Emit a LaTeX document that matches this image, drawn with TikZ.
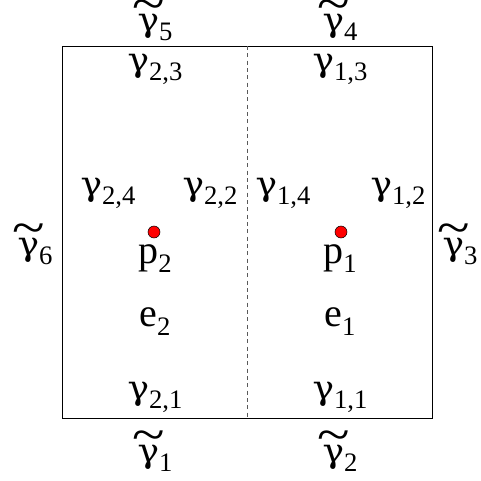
\documentclass[tikz,border=0pt]{standalone}
\usepackage{fontspec}
\usepackage{graphicx}
\setmainfont{Liberation Serif}
\newfontfamily\gfont{DejaVu Serif}
\newcommand\sbx[1]{\raisebox{-7pt}{\fontsize{20}{22}\selectfont #1}}
\newcommand\gm{{\gfont\fontsize{25}{28}\selectfont\scalebox{1.08}[1]{γ}}}
\newcommand\tgm{\leavevmode\hbox{\ooalign{\gm\cr\hidewidth\raisebox{8pt}[21pt][0pt]{\scalebox{1.8}[1.5]{\fontsize{25}{28}\selectfont\char"007E}}\hidewidth\cr}}}
\begin{document}
\begin{tikzpicture}[x=0.75pt,y=-0.75pt,lbl/.style={font=\fontsize{30}{34}\selectfont,inner sep=0pt,anchor=base},dot/.style={circle,fill=red,draw=black,line width=0.4pt,minimum size=9pt,inner sep=0pt}]
\useasboundingbox (0,0) rectangle (481,480);
\coordinate (tl) at (62,46);
\coordinate (br) at (432,418);
\coordinate (mt) at (247,46);
\coordinate (mb) at (247,418);
\draw[line width=0.7pt] (tl) rectangle (br);
\draw[line width=0.6pt,gray!70!black,dash pattern=on 3pt off 2.5pt] (mt) -- (mb);
\node[lbl] (t5) at (155,31) {\tgm\sbx{5}};
\node[lbl] (t4) at (340,31) {\tgm\sbx{4}};
\node[lbl] (g23) at (155,71) {\gm\sbx{2,3}};
\node[lbl] (g13) at (340,71) {\gm\sbx{1,3}};
\node[lbl] (g24) at (108,195) {\gm\sbx{2,4}};
\node[lbl] (g22) at (210,195) {\gm\sbx{2,2}};
\node[lbl] (g14) at (283,195) {\gm\sbx{1,4}};
\node[lbl] (g12) at (398,195) {\gm\sbx{1,2}};
\node[lbl] (t6) at (35,255) {\tgm\sbx{6}};
\node[lbl] (t3) at (460,255) {\tgm\sbx{3}};
\node[lbl] (p2) at (155,263) {p\sbx{2}};
\node[lbl] (p1) at (340,263) {p\sbx{1}};
\node[dot] (d2) at (154,232) {};
\node[dot] (d1) at (341,232) {};
\node[lbl] (e2) at (155,326) {e\sbx{2}};
\node[lbl] (e1) at (340,326) {e\sbx{1}};
\node[lbl] (g21) at (155,399) {\gm\sbx{2,1}};
\node[lbl] (g11) at (340,399) {\gm\sbx{1,1}};
\node[lbl] (t1) at (155,462) {\tgm\sbx{1}};
\node[lbl] (t2) at (340,462) {\tgm\sbx{2}};
\end{tikzpicture}
\end{document}
